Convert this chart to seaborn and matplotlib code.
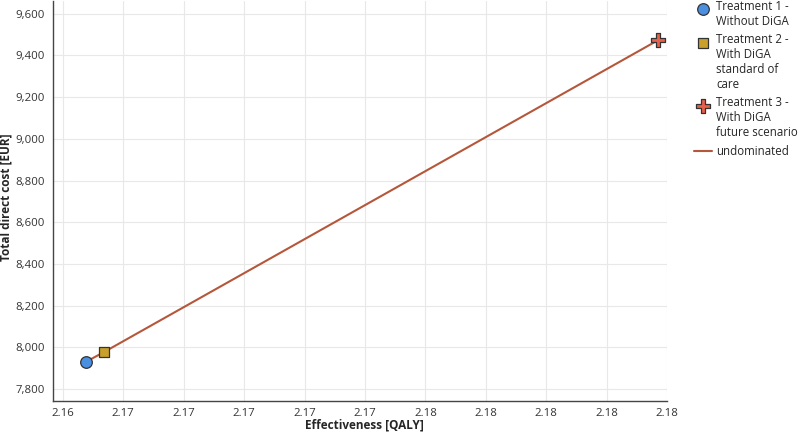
import matplotlib
matplotlib.use("Agg")
import matplotlib.pyplot as plt
import matplotlib.ticker as mticker
import seaborn as sns
import pandas as pd

# values
treatments = ["Treatment 1 -\nWithout DiGA",
              "Treatment 2 -\nWith DiGA\nstandard of\ncare",
              "Treatment 3 -\nWith DiGA\nfuture scenario"]
effectiveness = [2.16476, 2.16537, 2.18368]
cost = [7930, 7978, 9472]
markers = ["o", "s", "P"]
colors = ["#4a8fe0", "#c9a02a", "#e8604a"]
sizes = [70, 45, 110]
line_color = "#b5573a"

x_ticks = [2.164, 2.166, 2.168, 2.170, 2.172, 2.174, 2.176, 2.178, 2.180, 2.182, 2.184]
y_ticks = [7800, 8000, 8200, 8400, 8600, 8800, 9000, 9200, 9400, 9600]

df = pd.DataFrame({"treatment": treatments, "eff": effectiveness, "cost": cost})

sns.set_style("white")
plt.rcParams["font.family"] = ["Open Sans", "DejaVu Sans"]

fig = plt.figure(figsize=(8, 4.33), dpi=100)
ax = fig.add_axes([0.066, 0.075, 0.768, 0.923])

sns.lineplot(data=df, x="eff", y="cost", color=line_color, lw=1.5, ax=ax,
             label="undominated", sort=False, zorder=2)
for i in range(len(df)):
    sns.scatterplot(x=[effectiveness[i]], y=[cost[i]], marker=markers[i], s=sizes[i],
                    color=colors[i], edgecolor="#333333", linewidth=0.9,
                    label=treatments[i], ax=ax, zorder=3)

ax.set_xlim(2.16367, 2.184)
ax.set_ylim(7745, 9662)
ax.set_xticks(x_ticks)
ax.set_yticks(y_ticks)
ax.xaxis.set_major_formatter(mticker.FormatStrFormatter("%.2f"))
ax.yaxis.set_major_formatter(mticker.StrMethodFormatter("{x:,.0f}"))
ax.grid(True, color="#e8e8e8", lw=0.8)
ax.set_axisbelow(True)
for s in ["top", "right"]:
    ax.spines[s].set_visible(False)
for s in ["left", "bottom"]:
    ax.spines[s].set_color("#444444")
    ax.spines[s].set_linewidth(1.0)
ax.tick_params(axis="both", direction="out", length=4, width=1, color="#444444",
               labelsize=8.2, labelcolor="#333333", pad=2)
ax.tick_params(axis="x", pad=1.5)
ax.set_xlabel("Effectiveness [QALY]", fontsize=8.5, fontweight="bold", va="baseline")
ax.set_ylabel("Total direct cost [EUR]", fontsize=8.5, fontweight="bold")
ax.xaxis.set_label_coords(0.508, -0.069)
ax.yaxis.set_label_coords(-0.065, 0.51)

handles, labels = ax.get_legend_handles_labels()
order = [1, 2, 3, 0]
leg_fs = 8.3
leg = ax.legend([handles[i] for i in order], [labels[i] for i in order],
                loc="upper left", bbox_to_anchor=(0.868, 1.0), bbox_transform=fig.transFigure,
                frameon=False, fontsize=leg_fs, handlelength=1.5, handletextpad=0.4,
                labelspacing=0.45, borderaxespad=0, borderpad=0)

# put each marker next to the first line of its label, not its middle
for h, lab in zip(leg.legend_handles, [labels[i] for i in order]):
    n = lab.count("\n")
    if n and hasattr(h, "get_offsets"):
        off = h.get_offsets().copy()
        off[:, 1] += n * 0.5 * leg_fs * 1.2
        h.set_offsets(off)

fig.savefig("out.png", dpi=100)
